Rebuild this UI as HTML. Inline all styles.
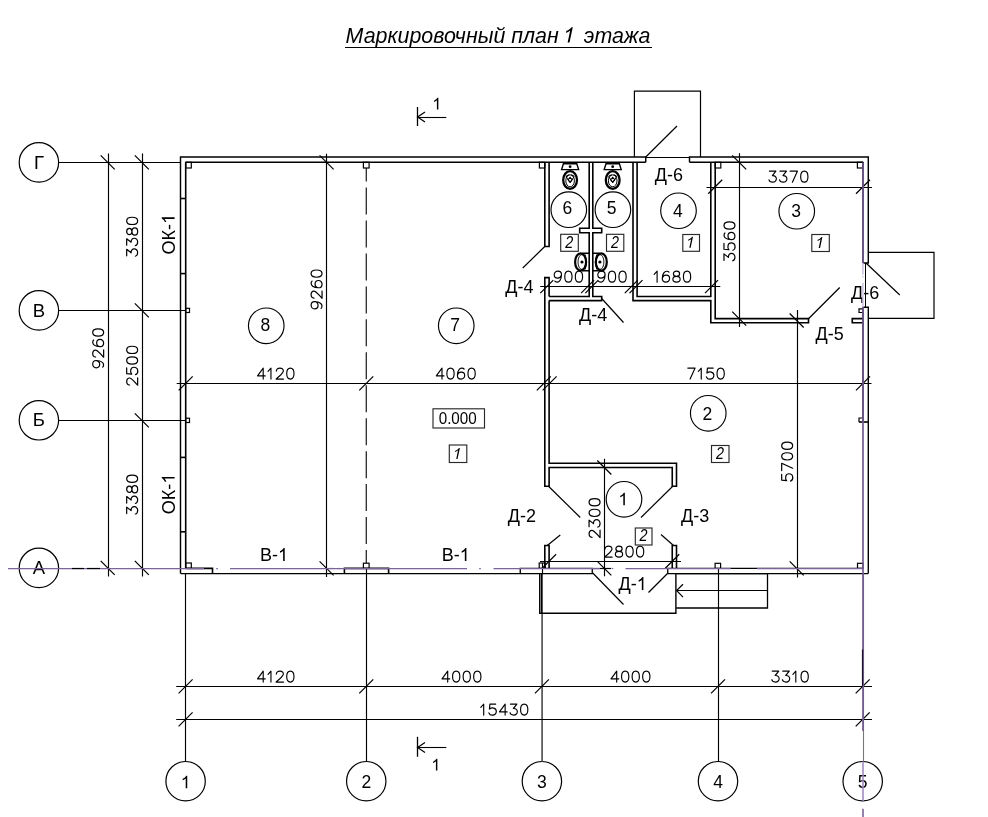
<!DOCTYPE html>
<html lang="ru"><head><meta charset="utf-8"><title>Маркировочный план 1 этажа</title>
<style>html,body{margin:0;padding:0;background:#fff;}body{width:988px;height:817px;overflow:hidden;font-family:"Liberation Sans",sans-serif;}svg{display:block;transform:translateZ(0);will-change:transform}svg text{font-family:"Liberation Sans",sans-serif;}</style>
</head><body>
<svg width="988" height="817" viewBox="0 0 988 817" fill="#000">
<rect width="988" height="817" fill="#fff" stroke="none"/>
<g><text x="345.60" y="42.6" font-size="21.4" text-anchor="start" xml:space="preserve" style="white-space:pre" font-style="italic">Маркировочный план </text><path d="M763 0H583V1147Q518 1085 412 1023T223 930V1104Q373 1174 485 1274T644 1469H763Z" transform="translate(561.54,42.6) skewX(-12) scale(0.01045,-0.01045)" fill="#000" stroke="none"/><text x="577.93" y="42.6" font-size="21.4" text-anchor="start" xml:space="preserve" style="white-space:pre" font-style="italic"> этажа</text></g>
<line x1="345" y1="47.5" x2="652" y2="47.5" stroke="#000" stroke-width="1.1" />
<line x1="417.5" y1="107" x2="417.5" y2="126" stroke="#000" stroke-width="1.3" />
<line x1="417" y1="117.5" x2="446.3" y2="117.5" stroke="#000" stroke-width="1.1" />
<path d="M425,112 L417.6,117 L425,122" fill="none" stroke="#000" stroke-width="1.2" stroke-linejoin="miter"/>
<g><path d="M763 0H583V1147Q518 1085 412 1023T223 930V1104Q373 1174 485 1274T644 1469H763Z" transform="translate(432.21,109.6) scale(0.00806,-0.00806)" fill="#000" stroke="none"/></g>
<line x1="417.5" y1="736.8" x2="417.5" y2="756.8" stroke="#000" stroke-width="1.3" />
<line x1="417" y1="747.5" x2="446.3" y2="747.5" stroke="#000" stroke-width="1.1" />
<path d="M425,742.5 L417.6,747.5 L425,752.5" fill="none" stroke="#000" stroke-width="1.2" stroke-linejoin="miter"/>
<g><path d="M763 0H583V1147Q518 1085 412 1023T223 930V1104Q373 1174 485 1274T644 1469H763Z" transform="translate(431.21,770.6) scale(0.00806,-0.00806)" fill="#000" stroke="none"/></g>
<circle cx="38.9" cy="162.4" r="19.7" fill="none" stroke="#000" stroke-width="1.2"/>
<text x="38.9" y="168.5" font-size="18.5" text-anchor="middle" >Г</text>
<circle cx="38.9" cy="310.4" r="19.7" fill="none" stroke="#000" stroke-width="1.2"/>
<text x="38.9" y="316.5" font-size="18.5" text-anchor="middle" >В</text>
<circle cx="38.9" cy="420.3" r="19.7" fill="none" stroke="#000" stroke-width="1.2"/>
<text x="38.9" y="426.40000000000003" font-size="18.5" text-anchor="middle" >Б</text>
<circle cx="38.9" cy="567.9" r="19.7" fill="none" stroke="#000" stroke-width="1.2"/>
<text x="38.9" y="574.0" font-size="18.5" text-anchor="middle" >А</text>
<line x1="58.3" y1="162.5" x2="180.5" y2="162.5" stroke="#000" stroke-width="1.15" />
<line x1="58.3" y1="310.5" x2="185.7" y2="310.5" stroke="#000" stroke-width="1.15" />
<line x1="58.3" y1="420.5" x2="185.7" y2="420.5" stroke="#000" stroke-width="1.15" />
<circle cx="185.6" cy="781.2" r="19.7" fill="none" stroke="#000" stroke-width="1.2"/>
<g><path d="M763 0H583V1147Q518 1085 412 1023T223 930V1104Q373 1174 485 1274T644 1469H763Z" transform="translate(180.73,788.3000000000001) scale(0.00854,-0.00854)" fill="#000" stroke="none"/></g>
<circle cx="366.25" cy="781.2" r="19.7" fill="none" stroke="#000" stroke-width="1.2"/>
<g><text x="361.38" y="788.3000000000001" font-size="17.5" text-anchor="start" xml:space="preserve" style="white-space:pre">2</text></g>
<circle cx="541.9" cy="781.2" r="19.7" fill="none" stroke="#000" stroke-width="1.2"/>
<g><text x="537.03" y="788.3000000000001" font-size="17.5" text-anchor="start" xml:space="preserve" style="white-space:pre">3</text></g>
<circle cx="718" cy="781.2" r="19.7" fill="none" stroke="#000" stroke-width="1.2"/>
<g><text x="713.13" y="788.3000000000001" font-size="17.5" text-anchor="start" xml:space="preserve" style="white-space:pre">4</text></g>
<circle cx="862.7" cy="781.2" r="19.7" fill="none" stroke="#000" stroke-width="1.2"/>
<g><text x="857.83" y="788.3000000000001" font-size="17.5" text-anchor="start" xml:space="preserve" style="white-space:pre">5</text></g>
<line x1="185.5" y1="574" x2="185.5" y2="761.5" stroke="#000" stroke-width="1.15" />
<line x1="366.5" y1="568" x2="366.5" y2="761.5" stroke="#000" stroke-width="1.15" />
<line x1="542.1" y1="574" x2="542.1" y2="761.5" stroke="#555" stroke-width="1.7" />
<line x1="542.5" y1="563" x2="542.5" y2="574" stroke="#000" stroke-width="1.15" />
<line x1="718.5" y1="568" x2="718.5" y2="761.5" stroke="#000" stroke-width="1.15" />
<line x1="176.2" y1="686.5" x2="872" y2="686.5" stroke="#000" stroke-width="1.15" />
<line x1="176.2" y1="719.5" x2="872" y2="719.5" stroke="#000" stroke-width="1.15" />
<line x1="178.6" y1="693.3" x2="192.6" y2="679.3" stroke="#000" stroke-width="1.2" />
<line x1="359.25" y1="693.3" x2="373.25" y2="679.3" stroke="#000" stroke-width="1.2" />
<line x1="534.9" y1="693.3" x2="548.9" y2="679.3" stroke="#000" stroke-width="1.2" />
<line x1="711" y1="693.3" x2="725" y2="679.3" stroke="#000" stroke-width="1.2" />
<line x1="855.7" y1="693.3" x2="869.7" y2="679.3" stroke="#000" stroke-width="1.2" />
<line x1="178.6" y1="726.3" x2="192.6" y2="712.3" stroke="#000" stroke-width="1.2" />
<line x1="855.7" y1="726.3" x2="869.7" y2="712.3" stroke="#000" stroke-width="1.2" />
<g transform="translate(257.0,671.0780000000001) scale(1,1.055)" fill="none" stroke="#000" stroke-width="1.15" stroke-linecap="round" stroke-linejoin="round"><path d="M5.7,10.4 L5.7,0 L0,7.4 L7.7,7.4" transform="translate(0.5,0)"/><path d="M0,3.1 L2.9,0 L2.9,10.4" transform="translate(11.05,0)"/><path d="M0.2,2.8 C0.5,-0.9 7.2,-0.9 7.2,2.7 C7.2,4.6 5.4,5.6 0,10.4 L7.4,10.4" transform="translate(19.15,0)"/><path d="M3.65,0 C-1.2,0 -1.2,10.4 3.65,10.4 C8.5,10.4 8.5,0 3.65,0 Z" transform="translate(29.7,0)"/></g>
<g transform="translate(441.5,671.0780000000001) scale(1,1.055)" fill="none" stroke="#000" stroke-width="1.15" stroke-linecap="round" stroke-linejoin="round"><path d="M5.7,10.4 L5.7,0 L0,7.4 L7.7,7.4" transform="translate(0.5,0)"/><path d="M3.65,0 C-1.2,0 -1.2,10.4 3.65,10.4 C8.5,10.4 8.5,0 3.65,0 Z" transform="translate(11.05,0)"/><path d="M3.65,0 C-1.2,0 -1.2,10.4 3.65,10.4 C8.5,10.4 8.5,0 3.65,0 Z" transform="translate(21.6,0)"/><path d="M3.65,0 C-1.2,0 -1.2,10.4 3.65,10.4 C8.5,10.4 8.5,0 3.65,0 Z" transform="translate(32.150000000000006,0)"/></g>
<g transform="translate(610.5,671.0780000000001) scale(1,1.055)" fill="none" stroke="#000" stroke-width="1.15" stroke-linecap="round" stroke-linejoin="round"><path d="M5.7,10.4 L5.7,0 L0,7.4 L7.7,7.4" transform="translate(0.5,0)"/><path d="M3.65,0 C-1.2,0 -1.2,10.4 3.65,10.4 C8.5,10.4 8.5,0 3.65,0 Z" transform="translate(11.05,0)"/><path d="M3.65,0 C-1.2,0 -1.2,10.4 3.65,10.4 C8.5,10.4 8.5,0 3.65,0 Z" transform="translate(21.6,0)"/><path d="M3.65,0 C-1.2,0 -1.2,10.4 3.65,10.4 C8.5,10.4 8.5,0 3.65,0 Z" transform="translate(32.150000000000006,0)"/></g>
<g transform="translate(771.3,671.0780000000001) scale(1,1.055)" fill="none" stroke="#000" stroke-width="1.15" stroke-linecap="round" stroke-linejoin="round"><path d="M0.4,0 L6.9,0 L3.4,4.2 C8.6,3.8 8.7,10.4 3.6,10.4 C1.6,10.4 0.3,9.5 0,8.2" transform="translate(0.5,0)"/><path d="M0.4,0 L6.9,0 L3.4,4.2 C8.6,3.8 8.7,10.4 3.6,10.4 C1.6,10.4 0.3,9.5 0,8.2" transform="translate(11.05,0)"/><path d="M0,3.1 L2.9,0 L2.9,10.4" transform="translate(21.6,0)"/><path d="M3.65,0 C-1.2,0 -1.2,10.4 3.65,10.4 C8.5,10.4 8.5,0 3.65,0 Z" transform="translate(29.700000000000003,0)"/></g>
<g transform="translate(480.3,704.0780000000001) scale(1,1.055)" fill="none" stroke="#000" stroke-width="1.15" stroke-linecap="round" stroke-linejoin="round"><path d="M0,3.1 L2.9,0 L2.9,10.4" transform="translate(0.5,0)"/><path d="M6.8,0 L1,0 L0.5,4.7 C2.8,3.0 7.4,3.4 7.4,6.9 C7.4,11.3 1.2,11.5 0,8.4" transform="translate(8.6,0)"/><path d="M5.7,10.4 L5.7,0 L0,7.4 L7.7,7.4" transform="translate(19.15,0)"/><path d="M0.4,0 L6.9,0 L3.4,4.2 C8.6,3.8 8.7,10.4 3.6,10.4 C1.6,10.4 0.3,9.5 0,8.2" transform="translate(29.7,0)"/><path d="M3.65,0 C-1.2,0 -1.2,10.4 3.65,10.4 C8.5,10.4 8.5,0 3.65,0 Z" transform="translate(40.25,0)"/></g>
<line x1="108.5" y1="153.5" x2="108.5" y2="576.6" stroke="#000" stroke-width="1.15" />
<line x1="142.5" y1="153.5" x2="142.5" y2="576.6" stroke="#000" stroke-width="1.15" />
<line x1="100.7" y1="155.4" x2="114.7" y2="169.4" stroke="#000" stroke-width="1.2" />
<line x1="100.7" y1="560.9" x2="114.7" y2="574.9" stroke="#000" stroke-width="1.2" />
<line x1="134.8" y1="155.4" x2="148.8" y2="169.4" stroke="#000" stroke-width="1.2" />
<line x1="134.8" y1="303.4" x2="148.8" y2="317.4" stroke="#000" stroke-width="1.2" />
<line x1="134.8" y1="413.3" x2="148.8" y2="427.3" stroke="#000" stroke-width="1.2" />
<line x1="134.8" y1="560.9" x2="148.8" y2="574.9" stroke="#000" stroke-width="1.2" />
<g transform="translate(138.2,256.2) rotate(-90) translate(-0.5,-11.522) scale(1,1.055)" fill="none" stroke="#000" stroke-width="1.15" stroke-linecap="round" stroke-linejoin="round"><path d="M0.4,0 L6.9,0 L3.4,4.2 C8.6,3.8 8.7,10.4 3.6,10.4 C1.6,10.4 0.3,9.5 0,8.2" transform="translate(0.5,0)"/><path d="M0.4,0 L6.9,0 L3.4,4.2 C8.6,3.8 8.7,10.4 3.6,10.4 C1.6,10.4 0.3,9.5 0,8.2" transform="translate(11.05,0)"/><path d="M3.65,0 C-0.5,0 -0.5,5.0 3.65,5.0 C7.8,5.0 7.8,0 3.65,0 Z M3.65,5.0 C-1.2,5.0 -1.2,10.4 3.65,10.4 C8.5,10.4 8.5,5.0 3.65,5.0 Z" transform="translate(21.6,0)"/><path d="M3.65,0 C-1.2,0 -1.2,10.4 3.65,10.4 C8.5,10.4 8.5,0 3.65,0 Z" transform="translate(32.150000000000006,0)"/></g>
<g transform="translate(138.2,385.2) rotate(-90) translate(-0.5,-11.522) scale(1,1.055)" fill="none" stroke="#000" stroke-width="1.15" stroke-linecap="round" stroke-linejoin="round"><path d="M0.2,2.8 C0.5,-0.9 7.2,-0.9 7.2,2.7 C7.2,4.6 5.4,5.6 0,10.4 L7.4,10.4" transform="translate(0.5,0)"/><path d="M6.8,0 L1,0 L0.5,4.7 C2.8,3.0 7.4,3.4 7.4,6.9 C7.4,11.3 1.2,11.5 0,8.4" transform="translate(11.05,0)"/><path d="M3.65,0 C-1.2,0 -1.2,10.4 3.65,10.4 C8.5,10.4 8.5,0 3.65,0 Z" transform="translate(21.6,0)"/><path d="M3.65,0 C-1.2,0 -1.2,10.4 3.65,10.4 C8.5,10.4 8.5,0 3.65,0 Z" transform="translate(32.150000000000006,0)"/></g>
<g transform="translate(138.2,514) rotate(-90) translate(-0.5,-11.522) scale(1,1.055)" fill="none" stroke="#000" stroke-width="1.15" stroke-linecap="round" stroke-linejoin="round"><path d="M0.4,0 L6.9,0 L3.4,4.2 C8.6,3.8 8.7,10.4 3.6,10.4 C1.6,10.4 0.3,9.5 0,8.2" transform="translate(0.5,0)"/><path d="M0.4,0 L6.9,0 L3.4,4.2 C8.6,3.8 8.7,10.4 3.6,10.4 C1.6,10.4 0.3,9.5 0,8.2" transform="translate(11.05,0)"/><path d="M3.65,0 C-0.5,0 -0.5,5.0 3.65,5.0 C7.8,5.0 7.8,0 3.65,0 Z M3.65,5.0 C-1.2,5.0 -1.2,10.4 3.65,10.4 C8.5,10.4 8.5,5.0 3.65,5.0 Z" transform="translate(21.6,0)"/><path d="M3.65,0 C-1.2,0 -1.2,10.4 3.65,10.4 C8.5,10.4 8.5,0 3.65,0 Z" transform="translate(32.150000000000006,0)"/></g>
<g transform="translate(104.2,367.8) rotate(-90) translate(-0.5,-11.522) scale(1,1.055)" fill="none" stroke="#000" stroke-width="1.15" stroke-linecap="round" stroke-linejoin="round"><path d="M6.7,0.9 C5.6,-0.3 3,-0.3 1.6,1.5 C0.2,3.2 0,5.2 0,7 C0,11.5 7.3,11.5 7.3,7 C7.3,2.8 1,2.8 0.1,6.6" transform="translate(7.8,10.4) rotate(180)"/><path d="M0.2,2.8 C0.5,-0.9 7.2,-0.9 7.2,2.7 C7.2,4.6 5.4,5.6 0,10.4 L7.4,10.4" transform="translate(11.05,0)"/><path d="M6.7,0.9 C5.6,-0.3 3,-0.3 1.6,1.5 C0.2,3.2 0,5.2 0,7 C0,11.5 7.3,11.5 7.3,7 C7.3,2.8 1,2.8 0.1,6.6" transform="translate(21.6,0)"/><path d="M3.65,0 C-1.2,0 -1.2,10.4 3.65,10.4 C8.5,10.4 8.5,0 3.65,0 Z" transform="translate(32.150000000000006,0)"/></g>
<path d="M180.5,573.6 L180.5,157.0 L645.75,157.0 L645.75,162.3" fill="none" stroke="#000" stroke-width="1.45" stroke-linejoin="miter"/>
<path d="M689.5,162.3 L689.5,157.0 L868.3,157.0 L868.3,263.0 L863.0,263.0" fill="none" stroke="#000" stroke-width="1.45" stroke-linejoin="miter"/>
<line x1="185.7" y1="162.3" x2="645.75" y2="162.3" stroke="#000" stroke-width="1.6" />
<line x1="689.5" y1="162.3" x2="863.0" y2="162.3" stroke="#000" stroke-width="1.6" />
<line x1="185.7" y1="162.3" x2="185.7" y2="568.4" stroke="#000" stroke-width="1.6" />
<line x1="180.5" y1="198.5" x2="185.7" y2="198.5" stroke="#000" stroke-width="1.6" />
<line x1="180.5" y1="273.6" x2="185.7" y2="273.6" stroke="#000" stroke-width="1.6" />
<line x1="180.5" y1="457.4" x2="185.7" y2="457.4" stroke="#000" stroke-width="1.6" />
<line x1="180.5" y1="531.8" x2="185.7" y2="531.8" stroke="#000" stroke-width="1.6" />
<line x1="863.0" y1="162.3" x2="863.0" y2="263.0" stroke="#000" stroke-width="1.6" />
<path d="M863.0,307.3 L868.3,307.3 L868.3,573.6" fill="none" stroke="#000" stroke-width="1.4" stroke-linejoin="miter"/>
<line x1="863.0" y1="307.3" x2="863.0" y2="422" stroke="#000" stroke-width="1.6" />
<line x1="858.9" y1="422" x2="868.3" y2="422" stroke="#000" stroke-width="1.6" />
<line x1="865.5" y1="263" x2="865.5" y2="307.3" stroke="#000" stroke-width="1.0" />
<path d="M180.5,573.6 L592.25,573.6 L592.25,568.4 L520.25,568.4 L520.25,573.6" fill="none" stroke="#000" stroke-width="1.35" stroke-linejoin="miter"/>
<path d="M868.3,573.6 L667.75,573.6 L667.75,568.4 L863.0,568.4" fill="none" stroke="#000" stroke-width="1.35" stroke-linejoin="miter"/>
<path d="M185.7,568.4 L212.5,568.4 L212.5,573.6" fill="none" stroke="#000" stroke-width="1.6" stroke-linejoin="miter"/>
<path d="M344.4,573.6 L344.4,568.4 L388.6,568.4 L388.6,573.6" fill="none" stroke="#000" stroke-width="1.6" stroke-linejoin="miter"/>
<rect x="185.7" y="162.3" width="5.600000000000023" height="5.699999999999989" fill="none" stroke="#000" stroke-width="1.2"/>
<rect x="363.4" y="162.3" width="5.7000000000000455" height="5.699999999999989" fill="none" stroke="#000" stroke-width="1.2"/>
<rect x="539.4" y="162.3" width="5.399999999999977" height="5.699999999999989" fill="none" stroke="#000" stroke-width="1.2"/>
<rect x="715.2" y="162.3" width="5.599999999999909" height="5.699999999999989" fill="none" stroke="#000" stroke-width="1.2"/>
<rect x="857.4" y="162.3" width="5.600000000000023" height="5.699999999999989" fill="none" stroke="#000" stroke-width="1.2"/>
<rect x="185.7" y="563" width="5.600000000000023" height="5.399999999999977" fill="none" stroke="#000" stroke-width="1.2"/>
<rect x="363.4" y="563.2" width="5.7000000000000455" height="5.199999999999932" fill="none" stroke="#000" stroke-width="1.2"/>
<rect x="539.2" y="563" width="6.0" height="5.399999999999977" fill="none" stroke="#000" stroke-width="1.2"/>
<rect x="715.1" y="563.3" width="5.5" height="5.100000000000023" fill="none" stroke="#000" stroke-width="1.2"/>
<rect x="857.5" y="563.3" width="5.5" height="5.100000000000023" fill="none" stroke="#000" stroke-width="1.2"/>
<rect x="185.7" y="308.3" width="3.8000000000000114" height="4.199999999999989" fill="none" stroke="#000" stroke-width="1.2"/>
<rect x="185.7" y="418.2" width="3.8000000000000114" height="4.300000000000011" fill="none" stroke="#000" stroke-width="1.2"/>
<path d="M863.0,308.8 L859,308.8 L859,312.5 L863.0,312.5" fill="none" stroke="#000" stroke-width="1.2" stroke-linejoin="miter"/>
<path d="M863.0,418 L859,418 L859,422" fill="none" stroke="#000" stroke-width="1.2" stroke-linejoin="miter"/>
<line x1="366.25" y1="168" x2="366.25" y2="563" stroke="#000" stroke-width="1.1" stroke-dasharray="27 5.95" stroke-dashoffset="13.4"/>
<path d="M544.8,162.3 L544.8,246.5 L549.1,246.5 L549.1,162.3" fill="none" stroke="#000" stroke-width="1.6" stroke-linejoin="miter"/>
<path d="M549.1,296.5 L549.1,277.6 L544.8,277.6 L544.8,486.25 L549.1,486.25 L549.1,467.5 L672.25,467.5 L672.25,486.25 L676.5,486.25 L676.5,463.25 L549.1,463.25 L549.1,300.6" fill="none" stroke="#000" stroke-width="1.6" stroke-linejoin="miter"/>
<path d="M549.1,296.5 L589.2,296.5 L589.2,232.8 L579.7,232.8 L579.7,228.3 L589.2,228.3 L589.2,162.3" fill="none" stroke="#000" stroke-width="1.6" stroke-linejoin="miter"/>
<path d="M549.1,300.6 L601.7,300.6 L601.7,296.5 L592.8,296.5 L592.8,232.8 L601.7,232.8 L601.7,228.3 L592.8,228.3 L592.8,162.3" fill="none" stroke="#000" stroke-width="1.6" stroke-linejoin="miter"/>
<path d="M633.0,162.3 L633.0,300.6 L710.8,300.6 L710.8,322.8 L808.5,322.8 L808.5,318.6 L715.2,318.6 L715.2,162.3" fill="none" stroke="#000" stroke-width="1.6" stroke-linejoin="miter"/>
<path d="M637.1,162.3 L637.1,296.5 L710.8,296.5 L710.8,162.3" fill="none" stroke="#000" stroke-width="1.6" stroke-linejoin="miter"/>
<path d="M863.0,318.6 L852.25,318.6 L852.25,322.8 L863.0,322.8" fill="none" stroke="#000" stroke-width="1.6" stroke-linejoin="miter"/>
<path d="M544.8,568.4 L544.8,545.5 L549.1,545.5 L549.1,568.4" fill="none" stroke="#000" stroke-width="1.6" stroke-linejoin="miter"/>
<path d="M672.25,568.4 L672.25,545.5 L676.5,545.5 L676.5,568.4" fill="none" stroke="#000" stroke-width="1.6" stroke-linejoin="miter"/>
<line x1="544.5" y1="246.8" x2="522.75" y2="268" stroke="#000" stroke-width="1.2" />
<line x1="601.7" y1="298.5" x2="623.5" y2="322.5" stroke="#000" stroke-width="1.2" />
<line x1="645.75" y1="157" x2="677" y2="126" stroke="#000" stroke-width="1.2" />
<line x1="866" y1="263" x2="899.75" y2="295" stroke="#000" stroke-width="1.2" />
<line x1="808.5" y1="318.75" x2="839.75" y2="287.5" stroke="#000" stroke-width="1.2" />
<line x1="548.5" y1="486.25" x2="580.25" y2="517.5" stroke="#000" stroke-width="1.2" />
<line x1="672.75" y1="486.25" x2="641" y2="517.5" stroke="#000" stroke-width="1.2" />
<line x1="547.25" y1="545.5" x2="560.25" y2="535" stroke="#000" stroke-width="1.2" />
<line x1="673.5" y1="545.5" x2="661" y2="534.5" stroke="#000" stroke-width="1.2" />
<line x1="592.75" y1="573" x2="623.5" y2="604.5" stroke="#000" stroke-width="1.2" />
<line x1="667.25" y1="573.75" x2="648.5" y2="592.5" stroke="#000" stroke-width="1.2" />
<path d="M634.4,157 L634.4,91.2 L700.5,91.2 L700.5,157" fill="none" stroke="#000" stroke-width="1.2" stroke-linejoin="miter"/>
<line x1="645.75" y1="157.5" x2="689.5" y2="157.5" stroke="#000" stroke-width="1.1" />
<path d="M868.3,252.4 L934,252.4 L934,318.3 L868.3,318.3" fill="none" stroke="#000" stroke-width="1.2" stroke-linejoin="miter"/>
<path d="M539.75,573.6 L539.75,613.25 L675.9,613.25 L675.9,573.6" fill="none" stroke="#000" stroke-width="1.4" stroke-linejoin="miter"/>
<line x1="541.5" y1="573.6" x2="541.5" y2="613" stroke="#000" stroke-width="1.2" />
<path d="M676.2,573.6 L767.5,573.6 L767.5,608 L676.2,608" fill="none" stroke="#000" stroke-width="1.3" stroke-linejoin="miter"/>
<line x1="676.2" y1="590.5" x2="767.5" y2="590.5" stroke="#000" stroke-width="1.2" />
<path d="M683,584.2 L676.6,590.5 L683,597.2" fill="none" stroke="#000" stroke-width="1.2" stroke-linejoin="miter"/>
<line x1="326.5" y1="153.7" x2="326.5" y2="577" stroke="#000" stroke-width="1.15" />
<line x1="319.6" y1="155.3" x2="333.6" y2="169.3" stroke="#000" stroke-width="1.2" />
<line x1="319.6" y1="561.4" x2="333.6" y2="575.4" stroke="#000" stroke-width="1.2" />
<g transform="translate(322.6,308.9) rotate(-90) translate(-0.5,-11.522) scale(1,1.055)" fill="none" stroke="#000" stroke-width="1.15" stroke-linecap="round" stroke-linejoin="round"><path d="M6.7,0.9 C5.6,-0.3 3,-0.3 1.6,1.5 C0.2,3.2 0,5.2 0,7 C0,11.5 7.3,11.5 7.3,7 C7.3,2.8 1,2.8 0.1,6.6" transform="translate(7.8,10.4) rotate(180)"/><path d="M0.2,2.8 C0.5,-0.9 7.2,-0.9 7.2,2.7 C7.2,4.6 5.4,5.6 0,10.4 L7.4,10.4" transform="translate(11.05,0)"/><path d="M6.7,0.9 C5.6,-0.3 3,-0.3 1.6,1.5 C0.2,3.2 0,5.2 0,7 C0,11.5 7.3,11.5 7.3,7 C7.3,2.8 1,2.8 0.1,6.6" transform="translate(21.6,0)"/><path d="M3.65,0 C-1.2,0 -1.2,10.4 3.65,10.4 C8.5,10.4 8.5,0 3.65,0 Z" transform="translate(32.150000000000006,0)"/></g>
<line x1="176.7" y1="383.5" x2="871.5" y2="383.5" stroke="#000" stroke-width="1.15" />
<line x1="178.7" y1="390.3" x2="192.7" y2="376.3" stroke="#000" stroke-width="1.2" />
<line x1="359.25" y1="390.3" x2="373.25" y2="376.3" stroke="#000" stroke-width="1.2" />
<line x1="536.8" y1="390.3" x2="550.8" y2="376.3" stroke="#000" stroke-width="1.2" />
<line x1="542.6" y1="390.3" x2="556.6" y2="376.3" stroke="#000" stroke-width="1.2" />
<line x1="856.0" y1="390.3" x2="870.0" y2="376.3" stroke="#000" stroke-width="1.2" />
<g transform="translate(257.0,368.07800000000003) scale(1,1.055)" fill="none" stroke="#000" stroke-width="1.15" stroke-linecap="round" stroke-linejoin="round"><path d="M5.7,10.4 L5.7,0 L0,7.4 L7.7,7.4" transform="translate(0.5,0)"/><path d="M0,3.1 L2.9,0 L2.9,10.4" transform="translate(11.05,0)"/><path d="M0.2,2.8 C0.5,-0.9 7.2,-0.9 7.2,2.7 C7.2,4.6 5.4,5.6 0,10.4 L7.4,10.4" transform="translate(19.15,0)"/><path d="M3.65,0 C-1.2,0 -1.2,10.4 3.65,10.4 C8.5,10.4 8.5,0 3.65,0 Z" transform="translate(29.7,0)"/></g>
<g transform="translate(435.8,368.07800000000003) scale(1,1.055)" fill="none" stroke="#000" stroke-width="1.15" stroke-linecap="round" stroke-linejoin="round"><path d="M5.7,10.4 L5.7,0 L0,7.4 L7.7,7.4" transform="translate(0.5,0)"/><path d="M3.65,0 C-1.2,0 -1.2,10.4 3.65,10.4 C8.5,10.4 8.5,0 3.65,0 Z" transform="translate(11.05,0)"/><path d="M6.7,0.9 C5.6,-0.3 3,-0.3 1.6,1.5 C0.2,3.2 0,5.2 0,7 C0,11.5 7.3,11.5 7.3,7 C7.3,2.8 1,2.8 0.1,6.6" transform="translate(21.6,0)"/><path d="M3.65,0 C-1.2,0 -1.2,10.4 3.65,10.4 C8.5,10.4 8.5,0 3.65,0 Z" transform="translate(32.150000000000006,0)"/></g>
<g transform="translate(687.3,368.07800000000003) scale(1,1.055)" fill="none" stroke="#000" stroke-width="1.15" stroke-linecap="round" stroke-linejoin="round"><path d="M0,0 L7.3,0 L2.3,10.4" transform="translate(0.5,0)"/><path d="M0,3.1 L2.9,0 L2.9,10.4" transform="translate(11.05,0)"/><path d="M6.8,0 L1,0 L0.5,4.7 C2.8,3.0 7.4,3.4 7.4,6.9 C7.4,11.3 1.2,11.5 0,8.4" transform="translate(19.15,0)"/><path d="M3.65,0 C-1.2,0 -1.2,10.4 3.65,10.4 C8.5,10.4 8.5,0 3.65,0 Z" transform="translate(29.7,0)"/></g>
<line x1="540.2" y1="286.5" x2="720.3" y2="286.5" stroke="#000" stroke-width="1.15" />
<line x1="540.3" y1="293.1" x2="553.3" y2="280.1" stroke="#000" stroke-width="1.2" />
<line x1="581.1" y1="293.1" x2="594.1" y2="280.1" stroke="#000" stroke-width="1.2" />
<line x1="585.3" y1="293.1" x2="598.3" y2="280.1" stroke="#000" stroke-width="1.2" />
<line x1="624.8" y1="293.1" x2="637.8" y2="280.1" stroke="#000" stroke-width="1.2" />
<line x1="629.5" y1="293.1" x2="642.5" y2="280.1" stroke="#000" stroke-width="1.2" />
<line x1="705.0" y1="293.1" x2="718.0" y2="280.1" stroke="#000" stroke-width="1.2" />
<g transform="translate(553.7,271.178) scale(1,1.055)" fill="none" stroke="#000" stroke-width="1.15" stroke-linecap="round" stroke-linejoin="round"><path d="M6.7,0.9 C5.6,-0.3 3,-0.3 1.6,1.5 C0.2,3.2 0,5.2 0,7 C0,11.5 7.3,11.5 7.3,7 C7.3,2.8 1,2.8 0.1,6.6" transform="translate(7.8,10.4) rotate(180)"/><path d="M3.65,0 C-1.2,0 -1.2,10.4 3.65,10.4 C8.5,10.4 8.5,0 3.65,0 Z" transform="translate(11.05,0)"/><path d="M3.65,0 C-1.2,0 -1.2,10.4 3.65,10.4 C8.5,10.4 8.5,0 3.65,0 Z" transform="translate(21.6,0)"/></g>
<g transform="translate(597.3,271.178) scale(1,1.055)" fill="none" stroke="#000" stroke-width="1.15" stroke-linecap="round" stroke-linejoin="round"><path d="M6.7,0.9 C5.6,-0.3 3,-0.3 1.6,1.5 C0.2,3.2 0,5.2 0,7 C0,11.5 7.3,11.5 7.3,7 C7.3,2.8 1,2.8 0.1,6.6" transform="translate(7.8,10.4) rotate(180)"/><path d="M3.65,0 C-1.2,0 -1.2,10.4 3.65,10.4 C8.5,10.4 8.5,0 3.65,0 Z" transform="translate(11.05,0)"/><path d="M3.65,0 C-1.2,0 -1.2,10.4 3.65,10.4 C8.5,10.4 8.5,0 3.65,0 Z" transform="translate(21.6,0)"/></g>
<g transform="translate(653.7,271.178) scale(1,1.055)" fill="none" stroke="#000" stroke-width="1.15" stroke-linecap="round" stroke-linejoin="round"><path d="M0,3.1 L2.9,0 L2.9,10.4" transform="translate(0.5,0)"/><path d="M6.7,0.9 C5.6,-0.3 3,-0.3 1.6,1.5 C0.2,3.2 0,5.2 0,7 C0,11.5 7.3,11.5 7.3,7 C7.3,2.8 1,2.8 0.1,6.6" transform="translate(8.6,0)"/><path d="M3.65,0 C-0.5,0 -0.5,5.0 3.65,5.0 C7.8,5.0 7.8,0 3.65,0 Z M3.65,5.0 C-1.2,5.0 -1.2,10.4 3.65,10.4 C8.5,10.4 8.5,5.0 3.65,5.0 Z" transform="translate(19.15,0)"/><path d="M3.65,0 C-1.2,0 -1.2,10.4 3.65,10.4 C8.5,10.4 8.5,0 3.65,0 Z" transform="translate(29.7,0)"/></g>
<line x1="706.5" y1="187.5" x2="872" y2="187.5" stroke="#000" stroke-width="1.15" />
<line x1="708.2" y1="193.75" x2="722.2" y2="179.75" stroke="#000" stroke-width="1.2" />
<line x1="856.0" y1="193.75" x2="870.0" y2="179.75" stroke="#000" stroke-width="1.2" />
<g transform="translate(768.5,171.17799999999997) scale(1,1.055)" fill="none" stroke="#000" stroke-width="1.15" stroke-linecap="round" stroke-linejoin="round"><path d="M0.4,0 L6.9,0 L3.4,4.2 C8.6,3.8 8.7,10.4 3.6,10.4 C1.6,10.4 0.3,9.5 0,8.2" transform="translate(0.5,0)"/><path d="M0.4,0 L6.9,0 L3.4,4.2 C8.6,3.8 8.7,10.4 3.6,10.4 C1.6,10.4 0.3,9.5 0,8.2" transform="translate(11.05,0)"/><path d="M0,0 L7.3,0 L2.3,10.4" transform="translate(21.6,0)"/><path d="M3.65,0 C-1.2,0 -1.2,10.4 3.65,10.4 C8.5,10.4 8.5,0 3.65,0 Z" transform="translate(32.150000000000006,0)"/></g>
<line x1="739.5" y1="153.2" x2="739.5" y2="327" stroke="#000" stroke-width="1.15" />
<line x1="732.2" y1="155.3" x2="746.2" y2="169.3" stroke="#000" stroke-width="1.2" />
<line x1="732.2" y1="311.6" x2="746.2" y2="325.6" stroke="#000" stroke-width="1.2" />
<g transform="translate(735.5,260.8) rotate(-90) translate(-0.5,-11.522) scale(1,1.055)" fill="none" stroke="#000" stroke-width="1.15" stroke-linecap="round" stroke-linejoin="round"><path d="M0.4,0 L6.9,0 L3.4,4.2 C8.6,3.8 8.7,10.4 3.6,10.4 C1.6,10.4 0.3,9.5 0,8.2" transform="translate(0.5,0)"/><path d="M6.8,0 L1,0 L0.5,4.7 C2.8,3.0 7.4,3.4 7.4,6.9 C7.4,11.3 1.2,11.5 0,8.4" transform="translate(11.05,0)"/><path d="M6.7,0.9 C5.6,-0.3 3,-0.3 1.6,1.5 C0.2,3.2 0,5.2 0,7 C0,11.5 7.3,11.5 7.3,7 C7.3,2.8 1,2.8 0.1,6.6" transform="translate(21.6,0)"/><path d="M3.65,0 C-1.2,0 -1.2,10.4 3.65,10.4 C8.5,10.4 8.5,0 3.65,0 Z" transform="translate(32.150000000000006,0)"/></g>
<line x1="797.5" y1="310" x2="797.5" y2="577.5" stroke="#000" stroke-width="1.15" />
<line x1="789.7" y1="313.5" x2="803.7" y2="327.5" stroke="#000" stroke-width="1.2" />
<line x1="789.7" y1="561.4" x2="803.7" y2="575.4" stroke="#000" stroke-width="1.2" />
<g transform="translate(793.2,481.1) rotate(-90) translate(-0.5,-11.522) scale(1,1.055)" fill="none" stroke="#000" stroke-width="1.15" stroke-linecap="round" stroke-linejoin="round"><path d="M6.8,0 L1,0 L0.5,4.7 C2.8,3.0 7.4,3.4 7.4,6.9 C7.4,11.3 1.2,11.5 0,8.4" transform="translate(0.5,0)"/><path d="M0,0 L7.3,0 L2.3,10.4" transform="translate(11.05,0)"/><path d="M3.65,0 C-1.2,0 -1.2,10.4 3.65,10.4 C8.5,10.4 8.5,0 3.65,0 Z" transform="translate(21.6,0)"/><path d="M3.65,0 C-1.2,0 -1.2,10.4 3.65,10.4 C8.5,10.4 8.5,0 3.65,0 Z" transform="translate(32.150000000000006,0)"/></g>
<line x1="604.5" y1="458.8" x2="604.5" y2="576.3" stroke="#000" stroke-width="1.15" />
<line x1="597.3" y1="460.5" x2="611.3" y2="474.5" stroke="#000" stroke-width="1.2" />
<line x1="597.3" y1="561.4" x2="611.3" y2="575.4" stroke="#000" stroke-width="1.2" />
<g transform="translate(600.6,537.6) rotate(-90) translate(-0.5,-11.522) scale(1,1.055)" fill="none" stroke="#000" stroke-width="1.15" stroke-linecap="round" stroke-linejoin="round"><path d="M0.2,2.8 C0.5,-0.9 7.2,-0.9 7.2,2.7 C7.2,4.6 5.4,5.6 0,10.4 L7.4,10.4" transform="translate(0.5,0)"/><path d="M0.4,0 L6.9,0 L3.4,4.2 C8.6,3.8 8.7,10.4 3.6,10.4 C1.6,10.4 0.3,9.5 0,8.2" transform="translate(11.05,0)"/><path d="M3.65,0 C-1.2,0 -1.2,10.4 3.65,10.4 C8.5,10.4 8.5,0 3.65,0 Z" transform="translate(21.6,0)"/><path d="M3.65,0 C-1.2,0 -1.2,10.4 3.65,10.4 C8.5,10.4 8.5,0 3.65,0 Z" transform="translate(32.150000000000006,0)"/></g>
<line x1="540" y1="561.5" x2="681" y2="561.5" stroke="#000" stroke-width="1.15" />
<line x1="542.1" y1="568.25" x2="556.1" y2="554.25" stroke="#000" stroke-width="1.2" />
<line x1="665.25" y1="568.25" x2="679.25" y2="554.25" stroke="#000" stroke-width="1.2" />
<g transform="translate(604.3,546.0780000000001) scale(1,1.055)" fill="none" stroke="#000" stroke-width="1.15" stroke-linecap="round" stroke-linejoin="round"><path d="M0.2,2.8 C0.5,-0.9 7.2,-0.9 7.2,2.7 C7.2,4.6 5.4,5.6 0,10.4 L7.4,10.4" transform="translate(0.5,0)"/><path d="M3.65,0 C-0.5,0 -0.5,5.0 3.65,5.0 C7.8,5.0 7.8,0 3.65,0 Z M3.65,5.0 C-1.2,5.0 -1.2,10.4 3.65,10.4 C8.5,10.4 8.5,5.0 3.65,5.0 Z" transform="translate(11.05,0)"/><path d="M3.65,0 C-1.2,0 -1.2,10.4 3.65,10.4 C8.5,10.4 8.5,0 3.65,0 Z" transform="translate(21.6,0)"/><path d="M3.65,0 C-1.2,0 -1.2,10.4 3.65,10.4 C8.5,10.4 8.5,0 3.65,0 Z" transform="translate(32.150000000000006,0)"/></g>
<circle cx="266.25" cy="325.75" r="17.8" fill="none" stroke="#000" stroke-width="1.15"/>
<g><text x="260.38" y="330.9" font-size="17.5" text-anchor="start" xml:space="preserve" style="white-space:pre">8</text></g>
<circle cx="456.25" cy="325.75" r="17.8" fill="none" stroke="#000" stroke-width="1.15"/>
<g><text x="450.18" y="330.9" font-size="17.5" text-anchor="start" xml:space="preserve" style="white-space:pre">7</text></g>
<circle cx="568.8" cy="209.7" r="17.8" fill="none" stroke="#000" stroke-width="1.15"/>
<g><text x="562.43" y="214.35" font-size="17.5" text-anchor="start" xml:space="preserve" style="white-space:pre">6</text></g>
<circle cx="612.9" cy="209.7" r="17.8" fill="none" stroke="#000" stroke-width="1.15"/>
<g><text x="606.73" y="214.35" font-size="17.5" text-anchor="start" xml:space="preserve" style="white-space:pre">5</text></g>
<circle cx="678.5" cy="210.75" r="17.8" fill="none" stroke="#000" stroke-width="1.15"/>
<g><text x="672.88" y="217.0" font-size="17.5" text-anchor="start" xml:space="preserve" style="white-space:pre">4</text></g>
<circle cx="796.75" cy="211.25" r="17.8" fill="none" stroke="#000" stroke-width="1.15"/>
<g><text x="791.13" y="217.0" font-size="17.5" text-anchor="start" xml:space="preserve" style="white-space:pre">3</text></g>
<circle cx="708.25" cy="413.25" r="17.8" fill="none" stroke="#000" stroke-width="1.15"/>
<g><text x="702.38" y="419.5" font-size="17.5" text-anchor="start" xml:space="preserve" style="white-space:pre">2</text></g>
<circle cx="624" cy="499.25" r="17.8" fill="none" stroke="#000" stroke-width="1.15"/>
<g><path d="M763 0H583V1147Q518 1085 412 1023T223 930V1104Q373 1174 485 1274T644 1469H763Z" transform="translate(618.33,505.3) scale(0.00854,-0.00854)" fill="#000" stroke="none"/></g>
<rect x="449.3" y="445" width="17.5" height="17.5" fill="none" stroke="#2a2a2a" stroke-width="1.15"/>
<g><path d="M763 0H583V1147Q518 1085 412 1023T223 930V1104Q373 1174 485 1274T644 1469H763Z" transform="translate(451.86,458.9) skewX(-12) scale(0.00747,-0.00747)" fill="#000" stroke="none"/></g>
<rect x="560.7" y="234.3" width="17.59999999999991" height="17.0" fill="none" stroke="#2a2a2a" stroke-width="1.15"/>
<g transform="translate(569.3,247.70000000000002) scale(0.9,1.0) translate(-569.3,-247.70000000000002)"><text x="564.85" y="247.70000000000002" font-size="16" text-anchor="start" xml:space="preserve" style="white-space:pre" font-style="italic">2</text></g>
<rect x="606.5" y="234.3" width="17.299999999999955" height="17.0" fill="none" stroke="#2a2a2a" stroke-width="1.15"/>
<g transform="translate(614.9499999999999,247.70000000000002) scale(0.9,1.0) translate(-614.9499999999999,-247.70000000000002)"><text x="610.50" y="247.70000000000002" font-size="16" text-anchor="start" xml:space="preserve" style="white-space:pre" font-style="italic">2</text></g>
<rect x="682.8" y="234.5" width="16.700000000000045" height="16.80000000000001" fill="none" stroke="#2a2a2a" stroke-width="1.15"/>
<g><path d="M763 0H583V1147Q518 1085 412 1023T223 930V1104Q373 1174 485 1274T644 1469H763Z" transform="translate(684.96,247.70000000000002) skewX(-12) scale(0.00747,-0.00747)" fill="#000" stroke="none"/></g>
<rect x="811.8" y="234.5" width="17.5" height="17.0" fill="none" stroke="#2a2a2a" stroke-width="1.15"/>
<g><path d="M763 0H583V1147Q518 1085 412 1023T223 930V1104Q373 1174 485 1274T644 1469H763Z" transform="translate(814.36,247.9) skewX(-12) scale(0.00747,-0.00747)" fill="#000" stroke="none"/></g>
<rect x="711.5" y="445.5" width="17.5" height="17.0" fill="none" stroke="#2a2a2a" stroke-width="1.15"/>
<g transform="translate(720.05,458.9) scale(0.9,1.0) translate(-720.05,-458.9)"><text x="715.60" y="458.9" font-size="16" text-anchor="start" xml:space="preserve" style="white-space:pre" font-style="italic">2</text></g>
<rect x="635.3" y="528" width="16.700000000000045" height="17" fill="none" stroke="#2a2a2a" stroke-width="1.15"/>
<g transform="translate(643.4499999999999,541.4) scale(0.9,1.0) translate(-643.4499999999999,-541.4)"><text x="639.00" y="541.4" font-size="16" text-anchor="start" xml:space="preserve" style="white-space:pre" font-style="italic">2</text></g>
<rect x="433" y="408.8" width="51.5" height="19.19999999999999" fill="none" stroke="#2a2a2a" stroke-width="1.15"/>
<g transform="translate(457.7,423.9) scale(0.95,1.0) translate(-457.7,-423.9)"><text x="437.68" y="423.9" font-size="16" text-anchor="start" xml:space="preserve" style="white-space:pre">0.000</text></g>
<g><text x="505.30" y="292.5" font-size="18" text-anchor="start" xml:space="preserve" style="white-space:pre">Д-4</text></g>
<g><text x="579.00" y="321.3" font-size="18" text-anchor="start" xml:space="preserve" style="white-space:pre">Д-4</text></g>
<g><text x="654.80" y="181.3" font-size="18" text-anchor="start" xml:space="preserve" style="white-space:pre">Д-6</text></g>
<g><text x="851.00" y="298.8" font-size="18" text-anchor="start" xml:space="preserve" style="white-space:pre">Д-6</text></g>
<g><text x="815.50" y="340" font-size="18" text-anchor="start" xml:space="preserve" style="white-space:pre">Д-5</text></g>
<g><text x="507.80" y="521.8" font-size="18" text-anchor="start" xml:space="preserve" style="white-space:pre">Д-2</text></g>
<g><text x="681.00" y="521.8" font-size="18" text-anchor="start" xml:space="preserve" style="white-space:pre">Д-3</text></g>
<g><text x="618.50" y="590" font-size="18" text-anchor="start" xml:space="preserve" style="white-space:pre">Д-</text><path d="M763 0H583V1147Q518 1085 412 1023T223 930V1104Q373 1174 485 1274T644 1469H763Z" transform="translate(636.68,590) scale(0.00879,-0.00879)" fill="#000" stroke="none"/></g>
<g><text x="260.00" y="561" font-size="18" text-anchor="start" xml:space="preserve" style="white-space:pre">В-</text><path d="M763 0H583V1147Q518 1085 412 1023T223 930V1104Q373 1174 485 1274T644 1469H763Z" transform="translate(278.00,561) scale(0.00879,-0.00879)" fill="#000" stroke="none"/></g>
<g><text x="441.70" y="561" font-size="18" text-anchor="start" xml:space="preserve" style="white-space:pre">В-</text><path d="M763 0H583V1147Q518 1085 412 1023T223 930V1104Q373 1174 485 1274T644 1469H763Z" transform="translate(459.70,561) scale(0.00879,-0.00879)" fill="#000" stroke="none"/></g>
<g transform="rotate(-90 174.6 234.3)"><text x="154.35" y="234.3" font-size="18" text-anchor="start" xml:space="preserve" style="white-space:pre">ОК-</text><path d="M763 0H583V1147Q518 1085 412 1023T223 930V1104Q373 1174 485 1274T644 1469H763Z" transform="translate(184.83,234.3) scale(0.00879,-0.00879)" fill="#000" stroke="none"/></g>
<g transform="rotate(-90 174.6 493.9)"><text x="154.35" y="493.9" font-size="18" text-anchor="start" xml:space="preserve" style="white-space:pre">ОК-</text><path d="M763 0H583V1147Q518 1085 412 1023T223 930V1104Q373 1174 485 1274T644 1469H763Z" transform="translate(184.83,493.9) scale(0.00879,-0.00879)" fill="#000" stroke="none"/></g>
<path d="M563.4,163.7 L576.8000000000001,163.7 L578.6,169.6 L561.6,169.6 Z" fill="none" stroke="#000" stroke-width="1.4" stroke-linejoin="miter"/>
<circle cx="570.1" cy="166.7" r="1.4" fill="#000"/>
<ellipse cx="570.1" cy="180" rx="6.9" ry="8.9" fill="none" stroke="#000" stroke-width="2.3"/>
<ellipse cx="570.1" cy="180.8" rx="4.3" ry="6.0" fill="none" stroke="#000" stroke-width="1.0"/>
<path d="M565.9,177.4 Q566.9,174.6 569.2,175.2 M574.3000000000001,177.4 Q573.3000000000001,174.6 571.0,175.2" fill="none" stroke="#000" stroke-width="1.2"/>
<path d="M566.5,177.2 L570.1,182.8 L573.7,177.2" fill="none" stroke="#000" stroke-width="1.0" stroke-linejoin="miter"/>
<path d="M570.1,177.3 L572.2,179.7 L570.1,182.1 L568.0,179.7 Z" fill="none" stroke="#000" stroke-width="1.1" stroke-linejoin="miter"/>
<path d="M606.0,163.7 L619.4000000000001,163.7 L621.2,169.6 L604.2,169.6 Z" fill="none" stroke="#000" stroke-width="1.4" stroke-linejoin="miter"/>
<circle cx="612.7" cy="166.7" r="1.4" fill="#000"/>
<ellipse cx="612.7" cy="180" rx="6.9" ry="8.9" fill="none" stroke="#000" stroke-width="2.3"/>
<ellipse cx="612.7" cy="180.8" rx="4.3" ry="6.0" fill="none" stroke="#000" stroke-width="1.0"/>
<path d="M608.5,177.4 Q609.5,174.6 611.8000000000001,175.2 M616.9000000000001,177.4 Q615.9000000000001,174.6 613.6,175.2" fill="none" stroke="#000" stroke-width="1.2"/>
<path d="M609.1,177.2 L612.7,182.8 L616.3000000000001,177.2" fill="none" stroke="#000" stroke-width="1.0" stroke-linejoin="miter"/>
<path d="M612.7,177.3 L614.8000000000001,179.7 L612.7,182.1 L610.6,179.7 Z" fill="none" stroke="#000" stroke-width="1.1" stroke-linejoin="miter"/>
<path d="M589.2,253.2 L582.1,253.2 M589.2,270.8 L582.1,270.8" fill="none" stroke="#000" stroke-width="1.5"/>
<ellipse cx="580.6" cy="262" rx="5.5" ry="8.6" fill="none" stroke="#000" stroke-width="2.2"/>
<ellipse cx="581.9" cy="262" rx="3.9" ry="7.4" fill="none" stroke="#000" stroke-width="0.9"/>
<path d="M585.2,254.5 Q588.0,262 585.2,269.5" fill="none" stroke="#000" stroke-width="0.9"/>
<circle cx="582.0" cy="262" r="1.6" fill="#000"/>
<path d="M592.8,253.2 L599.8,253.2 M592.8,270.8 L599.8,270.8" fill="none" stroke="#000" stroke-width="1.5"/>
<ellipse cx="601.3" cy="262" rx="5.5" ry="8.6" fill="none" stroke="#000" stroke-width="2.2"/>
<ellipse cx="600.0" cy="262" rx="3.9" ry="7.4" fill="none" stroke="#000" stroke-width="0.9"/>
<path d="M596.6999999999999,254.5 Q593.9,262 596.6999999999999,269.5" fill="none" stroke="#000" stroke-width="0.9"/>
<circle cx="599.9" cy="262" r="1.6" fill="#000"/>
<line x1="593" y1="568.5" x2="611" y2="568.5" stroke="#000" stroke-width="1.2" />
<line x1="328" y1="568.5" x2="334" y2="568.5" stroke="#000" stroke-width="1.1" />
<line x1="336.5" y1="568.5" x2="340.5" y2="568.5" stroke="#000" stroke-width="1.1" />
<line x1="8" y1="568.5" x2="204" y2="568.5" stroke="#7a629c" stroke-width="1.25" />
<line x1="230" y1="568.5" x2="467" y2="568.5" stroke="#7a629c" stroke-width="1.25" />
<line x1="493.5" y1="568.5" x2="600" y2="568.5" stroke="#7a629c" stroke-width="1.25" />
<line x1="625.5" y1="568.5" x2="730.8" y2="568.5" stroke="#7a629c" stroke-width="1.25" />
<line x1="757" y1="568.5" x2="862.7" y2="568.5" stroke="#7a629c" stroke-width="1.25" />
<line x1="216.2" y1="568.5" x2="217.8" y2="568.5" stroke="#7a629c" stroke-width="1.25" />
<line x1="479.2" y1="568.5" x2="480.8" y2="568.5" stroke="#7a629c" stroke-width="1.25" />
<line x1="611.6" y1="568.5" x2="613.1999999999999" y2="568.5" stroke="#7a629c" stroke-width="1.25" />
<line x1="863.0" y1="162.5" x2="863.0" y2="263" stroke="#735a91" stroke-width="1.7" />
<line x1="862.9" y1="263" x2="862.9" y2="274.5" stroke="#c9bcdf" stroke-width="1.4" />
<line x1="862.9" y1="276" x2="862.9" y2="277.3" stroke="#c9bcdf" stroke-width="1.4" />
<line x1="862.9" y1="283" x2="862.9" y2="307" stroke="#c9bcdf" stroke-width="1.4" />
<line x1="863.0" y1="307" x2="863.0" y2="422" stroke="#735a91" stroke-width="1.7" />
<line x1="863.5" y1="574" x2="863.5" y2="761.5" stroke="#777" stroke-width="1.1" />
<line x1="863.0" y1="422" x2="863.0" y2="731" stroke="#735a91" stroke-width="1.7" />
<line x1="863.0" y1="761.5" x2="863.0" y2="801" stroke="#9b86bd" stroke-width="1.5" />
<line x1="863.0" y1="808.7" x2="863.0" y2="817" stroke="#735a91" stroke-width="1.5" />
<line x1="862.5" y1="649.5" x2="862.5" y2="686.5" stroke="#1a1326" stroke-width="1.2" />
<line x1="72" y1="568.5" x2="84" y2="568.5" stroke="#000" stroke-width="1.2" />
<line x1="87" y1="568.5" x2="100" y2="568.5" stroke="#000" stroke-width="1.2" />
</svg>
</body></html>
